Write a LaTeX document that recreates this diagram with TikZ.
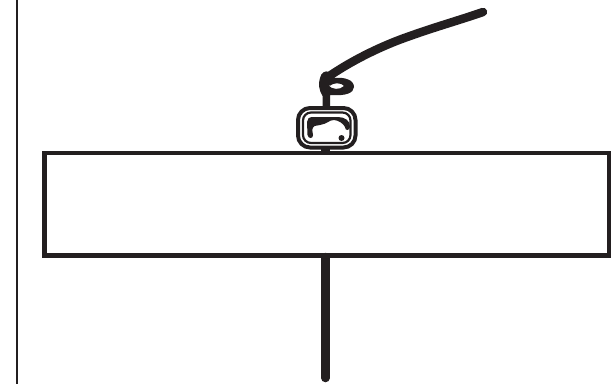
\documentclass[tikz,border=0pt]{standalone}
\usepackage{xcolor}
\definecolor{ink}{RGB}{35,31,32}
\begin{document}
\begin{tikzpicture}[x=1pt,y=-1pt,line cap=round,line join=round]
\useasboundingbox (0,0) rectangle (613,384);
\coordinate (T) at (325.5,257);
\coordinate (E) at (325.5,378);
\draw[ink,line width=2.4pt,line cap=butt] (17,0)--(17,384);
\draw[ink,line width=4.6pt,line join=miter] (44.5,153) rectangle (609,255.5);
\draw[ink,line width=8.5pt] (T)--(E);
% clip body
\draw[ink,line width=4pt,rounded corners=12pt] (298,108) rectangle (355.5,147.5);
\draw[ink,line width=2.2pt,rounded corners=8pt] (303,112.5) rectangle (350.5,143);
\fill[ink] (321,146) rectangle (330,153);
% inner mark
\fill[ink] (307,122) .. controls (307,119) and (309,117) .. (313,117) -- (338,117)
  .. controls (345,117) and (350.5,121) .. (350,127) .. controls (349.5,131) and (345,131) .. (345,127)
  .. controls (344,124) and (338,120) .. (334,120) .. controls (329,120) and (327,124) .. (320,125)
  -- (314.5,126) .. controls (311.5,128) and (312,132) .. (313,135)
  .. controls (313.5,139) and (308,139) .. (307.5,135) -- cycle;
\fill[ink] (341.5,138) circle (3pt);
% stem and loop
\fill[ink,even odd rule] (320,78) .. controls (321,73) and (325,70) .. (329,72) -- (335,78)
  .. controls (345,77) and (354,80) .. (354,87) .. controls (354,93) and (345,96) .. (333,95)
  -- (330,95) -- (330,106) -- (322.5,106) -- (322.5,96) .. controls (319,90) and (318,84) .. (320,78) -- cycle
  (328,85) .. controls (332,90) and (340,90) .. (344,86) .. controls (342,83) and (336,83) .. (333,84)
  .. controls (331,86) and (329,86) .. (328,85) -- cycle;
\coordinate (K) at (328,77);
\coordinate (H) at (483,12);
\draw[ink,line width=8.5pt] (K) .. controls (345,65) and (375,48) .. (410,36)
  .. controls (435,27) and (460,20) .. (H);
\end{tikzpicture}
\end{document}
